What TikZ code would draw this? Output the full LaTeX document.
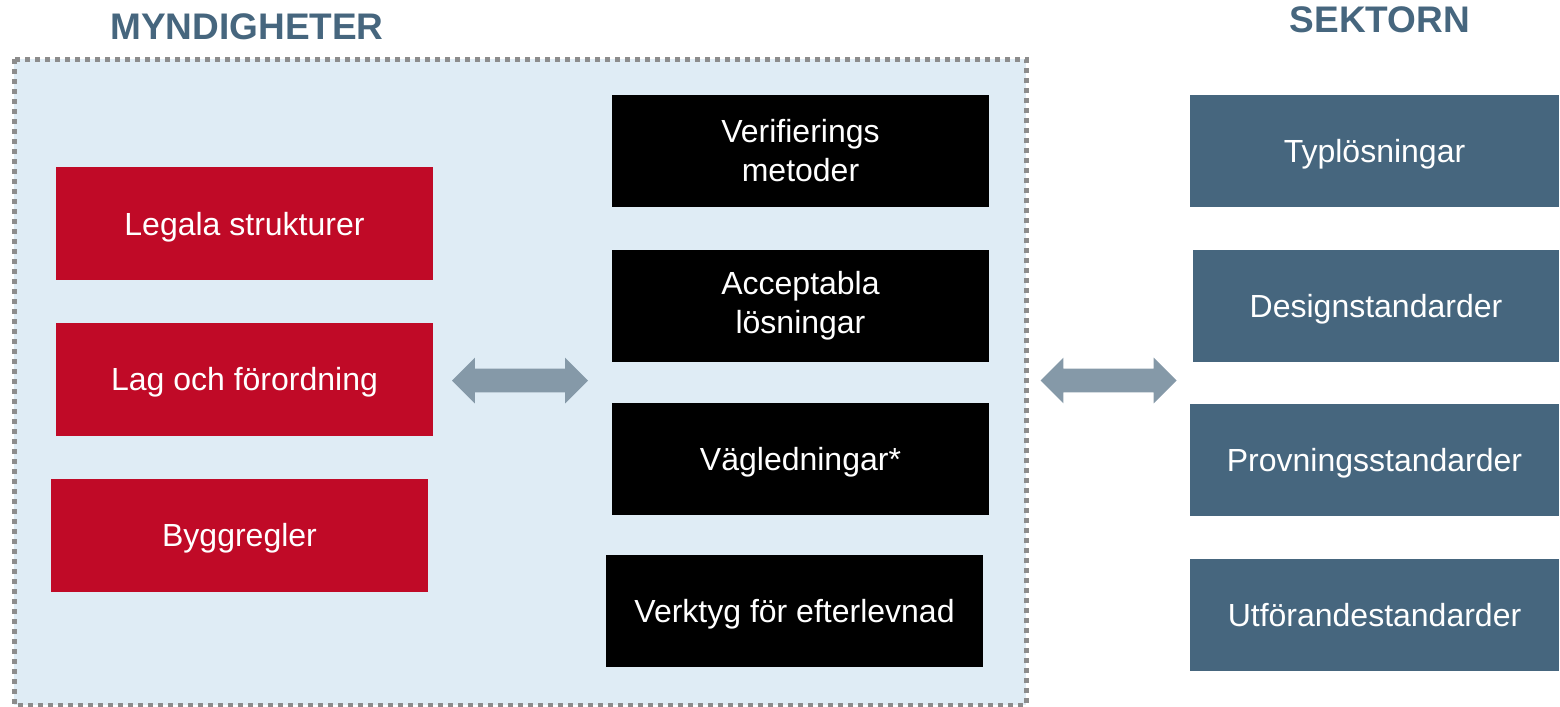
\documentclass[tikz,border=0pt]{standalone}
\usepackage{fontspec}
\setmainfont{Liberation Sans}
\usepackage{tikz}
\usetikzlibrary{shapes,arrows,shapes.arrows,positioning}
\definecolor{titleblue}{HTML}{46667E}
\definecolor{lawred}{HTML}{C00A27}
\definecolor{bgblue}{HTML}{DFECF5}
\definecolor{bordergray}{HTML}{8C8C8C}
\definecolor{arrowgray}{HTML}{8599A8}
\tikzstyle{title} = [font=\fontsize{18.5}{22}\selectfont\bfseries, text=titleblue]
\tikzstyle{redbox} = [rectangle, minimum width=188.5pt, minimum height=56.5pt, inner sep=0pt, fill=lawred, text=white, align=center, font=\fontsize{16}{19.5}\selectfont]
\tikzstyle{blackbox} = [rectangle, minimum width=188.5pt, minimum height=56pt, inner sep=0pt, fill=black, text=white, align=center, font=\fontsize{16}{19.5}\selectfont]
\tikzstyle{sectorbox} = [rectangle, minimum width=184.5pt, minimum height=56pt, inner sep=0pt, fill=titleblue, text=white, align=center, font=\fontsize{16}{19.5}\selectfont]
\tikzstyle{oneline} = [text height=11.5pt, text depth=-1pt]
\tikzstyle{biarrow} = [double arrow, fill=arrowgray, minimum height=68pt, inner xsep=0pt, inner ysep=5.75pt, double arrow head extend=5.5pt]
\begin{document}
\begin{tikzpicture}[x=0.5pt, y=-0.5pt, node distance=21pt]
			\useasboundingbox (0,0) rectangle (1560,707);
			\draw[fill=bgblue, draw=bordergray, line width=2.5pt, dash pattern=on 2.5pt off 2.5pt] (14,59) rectangle (1026,705);
			\node[title] (myndigheter) at (247,27) {MYNDIGHETER};
			\node[title] (sektorn) at (1380,20) {SEKTORN};
			
			%myndigheter
			\node[redbox, oneline] (legala) at (244.5,223.5) {Legala strukturer};
			\node[redbox, oneline, below=of legala] (lag) {Lag och förordning};
			\node[redbox, oneline, below=of lag, xshift=-2.5pt] (bygg) {Byggregler};
			
			\node[blackbox] (verif) at (800.5,151) {Verifierings\\metoder};
			\node[blackbox, below=of verif] (accept) {Acceptabla\\lösningar};
			\node[blackbox, oneline, below=20pt of accept] (vagl) {Vägledningar*};
			\node[blackbox, oneline, below=20pt of vagl, xshift=-3pt] (verktyg) {Verktyg för efterlevnad};
			
			%sektorn
			\node[sectorbox, oneline] (typ) at (1374.5,151) {Typlösningar};
			\node[sectorbox, oneline, below=21pt of typ, minimum width=183pt, xshift=0.75pt] (design) {Designstandarder};
			\node[sectorbox, oneline, below=20.5pt of design, xshift=-0.75pt] (prov) {Provningsstandarder};
			\node[sectorbox, oneline, below=21.5pt of prov] (utf) {Utförandestandarder};
			
			%arrows
			\node[biarrow] (arrowleft) at (520,380.5) {};
			\node[biarrow] (arrowright) at (1108.5,380.5) {};
			
		\end{tikzpicture}
\end{document}
